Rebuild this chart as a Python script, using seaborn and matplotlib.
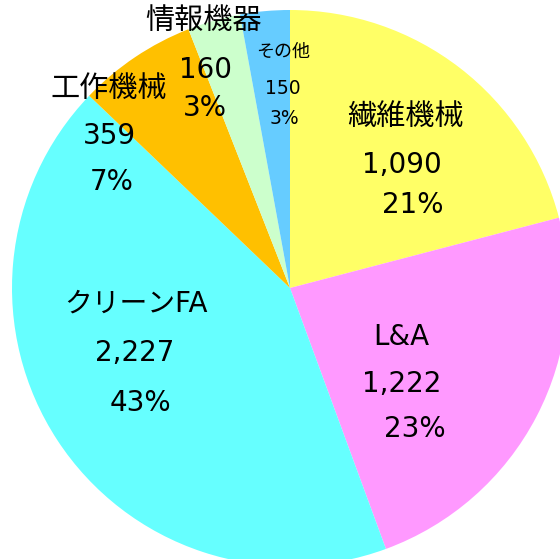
import numpy as np
import matplotlib
matplotlib.use('Agg')
import matplotlib.pyplot as plt
import seaborn as sns

sns.set_theme(style='white')
# Latin glyphs from DejaVu Sans (Verdana-like), kana/kanji from Noto CJK
plt.rcParams['font.family'] = ['DejaVu Sans', 'Noto Sans CJK JP']

# data
categories = ['繊維機械', 'L&A', 'クリーンFA', '工作機械', '情報機器', 'その他']
values = [1090, 1222, 2227, 359, 160, 150]
colors = ['#FFFF66', '#FF99FF', '#66FFFF', '#FFC000', '#CCFFCC', '#66CCFF']

total = sum(values)
pcts = [round(v / total * 100) for v in values]

# pixel positions of each label line (name, value, pct) in the 560x559 picture
label_px = [
    [(405, 117), (402, 165), (413, 205)],
    [(401, 337), (402, 384), (415, 429)],
    [(136, 304), (135, 353), (140, 403)],
    [(109, 89), (109, 136), (112, 182)],
    [(204, 21), (205, 70), (205, 108)],
    [(283, 52), (283, 88), (284, 118)],
]
name_sizes = [21, 20, 20, 21, 21, 13]
num_sizes = [20, 20, 20, 20, 20, 13.5]

W, H = 560, 559
cx, cy, r = 290, 288, 278

fig = plt.figure(figsize=(W / 100, H / 100), dpi=100)
ax = fig.add_axes([(cx - r) / W, (H - cy - r) / H, 2 * r / W, 2 * r / H])

ax.pie(values, colors=colors, startangle=90, counterclock=False,
       radius=1, wedgeprops=dict(linewidth=0))
ax.set_xlim(-1, 1)
ax.set_ylim(-1, 1)
ax.set_aspect('auto')
ax.axis('off')


def to_data(px, py):
    return (px - cx) / r, (cy - py) / r


for i, name in enumerate(categories):
    lines = [name, f'{values[i]:,}', f'{pcts[i]}%']
    sizes = [name_sizes[i], num_sizes[i], num_sizes[i]]
    for txt, fs, (px, py) in zip(lines, sizes, label_px[i]):
        x, y = to_data(px, py)
        ax.text(x, y, txt, ha='center', va='center', fontsize=fs, color='black')

fig.savefig('out.png', dpi=100)
